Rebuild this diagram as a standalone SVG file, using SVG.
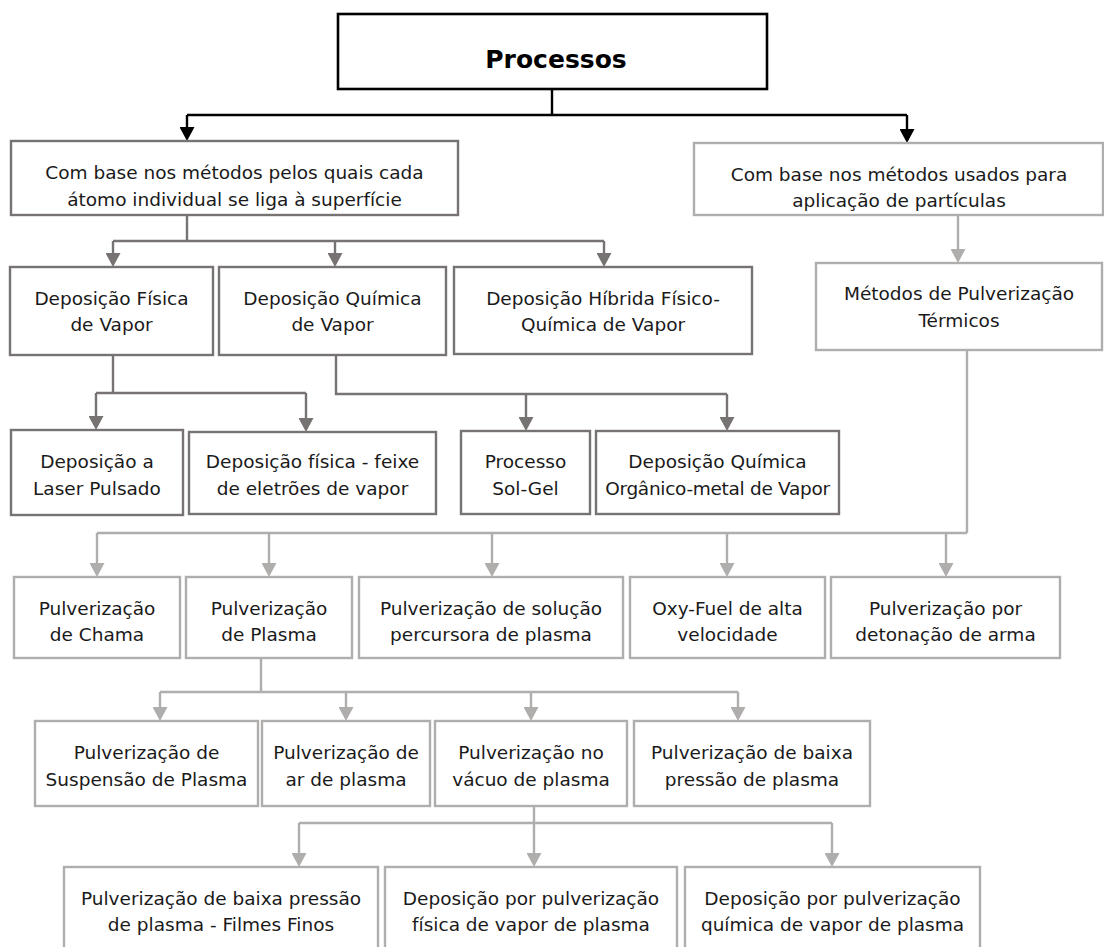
<svg xmlns="http://www.w3.org/2000/svg" width="1104" height="947" viewBox="0 0 1104 947">
<style>
text{font-family:"DejaVu Sans","Noto Sans",sans-serif;font-size:18.5px;fill:#1a1a1a;text-anchor:middle}
.title{font-size:25px;font-weight:bold;fill:#000}
rect{fill:#fff;stroke-width:2.4}
.k{stroke:#000;stroke-width:2.6}
.g{stroke:#777373}
.l{stroke:#b0adad}
.ck{fill:none;stroke:#000;stroke-width:2.4}
.cg{fill:none;stroke:#777373;stroke-width:2.4}
.cl{fill:none;stroke:#b0adad;stroke-width:2.4}
.ak{marker-end:url(#hk)}
.ag{marker-end:url(#hg)}
.al{marker-end:url(#hl)}
</style>
<defs>
<marker id="hk" viewBox="0 0 14 15" refX="2" refY="7.5" markerWidth="14" markerHeight="15" markerUnits="userSpaceOnUse" orient="auto"><path d="M0,0 L14,7.5 L0,15 Z" fill="#000"/></marker>
<marker id="hg" viewBox="0 0 14 15" refX="2" refY="7.5" markerWidth="14" markerHeight="15" markerUnits="userSpaceOnUse" orient="auto"><path d="M0,0 L14,7.5 L0,15 Z" fill="#777373"/></marker>
<marker id="hl" viewBox="0 0 14 15" refX="2" refY="7.5" markerWidth="14" markerHeight="15" markerUnits="userSpaceOnUse" orient="auto"><path d="M0,0 L14,7.5 L0,15 Z" fill="#b0adad"/></marker>
</defs>

<g id="connectors">
<path class="ck" d="M552,89 V115 M187,115 H907"/>
<path class="ck ak" d="M187,115 V129"/>
<path class="ck ak" d="M907,115 V131"/>

<path class="cg" d="M187,215 V241 M113,241 H604"/>
<path class="cg ag" d="M113,241 V255"/>
<path class="cg ag" d="M335,241 V255"/>
<path class="cg ag" d="M604,241 V255"/>

<path class="cg" d="M113,355 V393 M96,393 H306"/>
<path class="cg ag" d="M96,393 V418"/>
<path class="cg ag" d="M306,393 V420"/>

<path class="cg" d="M336,355 V394 H727"/>
<path class="cg ag" d="M526,394 V419"/>
<path class="cg ag" d="M727,394 V419"/>

<path class="cl al" d="M958,215 V251"/>

<path class="cl" d="M967,350 V533 M97,533 H967"/>
<path class="cl al" d="M97,533 V565"/>
<path class="cl al" d="M269,533 V565"/>
<path class="cl al" d="M492,533 V565"/>
<path class="cl al" d="M727,533 V565"/>
<path class="cl al" d="M946,533 V565"/>

<path class="cl" d="M261,658 V692 M160,692 H738"/>
<path class="cl al" d="M160,692 V709"/>
<path class="cl al" d="M346,692 V709"/>
<path class="cl al" d="M531,692 V709"/>
<path class="cl al" d="M738,692 V709"/>

<path class="cl" d="M534,806 V823 M299,823 H832"/>
<path class="cl al" d="M299,823 V855"/>
<path class="cl al" d="M534,823 V855"/>
<path class="cl al" d="M832,823 V855"/>
</g>

<g id="processos"><rect class="k" x="338" y="14" width="429" height="75"/><text class="title" x="556" y="68">Processos</text></g>

<g id="base-atomo"><rect class="g" x="11" y="141" width="447" height="74"/><text x="234.5" y="179">Com base nos métodos pelos quais cada</text><text x="234.5" y="206">átomo individual se liga à superfície</text></g>
<g id="base-particulas"><rect class="l" x="694" y="143" width="409" height="72"/><text x="899" y="181">Com base nos métodos usados para</text><text x="899" y="207">aplicação de partículas</text></g>

<g id="dep-fisica"><rect class="g" x="10" y="267" width="203" height="88"/><text x="111.5" y="305">Deposição Física</text><text x="111.5" y="331">de Vapor</text></g>
<g id="dep-quimica"><rect class="g" x="219" y="267" width="227" height="88"/><text x="332.5" y="305">Deposição Química</text><text x="332.5" y="331">de Vapor</text></g>
<g id="dep-hibrida"><rect class="g" x="454" y="267" width="298" height="87"/><text x="603" y="305">Deposição Híbrida Físico-</text><text x="603" y="331">Química de Vapor</text></g>
<g id="metodos-pulv"><rect class="l" x="816" y="263" width="286" height="87"/><text x="959" y="300">Métodos de Pulverização</text><text x="959" y="327">Térmicos</text></g>

<g id="laser"><rect class="g" x="11" y="430" width="172" height="85"/><text x="97" y="468">Deposição a</text><text x="97" y="495">Laser Pulsado</text></g>
<g id="feixe"><rect class="g" x="189" y="432" width="247" height="82"/><text x="312.5" y="468">Deposição física - feixe</text><text x="312.5" y="495">de eletrões de vapor</text></g>
<g id="solgel"><rect class="g" x="461" y="431" width="129" height="83"/><text x="525.5" y="468">Processo</text><text x="525.5" y="495">Sol-Gel</text></g>
<g id="organico"><rect class="g" x="596" y="431" width="243" height="83"/><text x="717.5" y="468">Deposição Química</text><text x="717.5" y="495" style="letter-spacing:-0.3px">Orgânico-metal de Vapor</text></g>

<g id="chama"><rect class="l" x="14" y="577" width="166" height="81"/><text x="97" y="615">Pulverização</text><text x="97" y="641">de Chama</text></g>
<g id="plasma"><rect class="l" x="186" y="577" width="166" height="81"/><text x="269" y="615">Pulverização</text><text x="269" y="641">de Plasma</text></g>
<g id="solucao"><rect class="l" x="359" y="577" width="264" height="81"/><text x="491" y="615">Pulverização de solução</text><text x="491" y="641">percursora de plasma</text></g>
<g id="oxyfuel"><rect class="l" x="630" y="577" width="195" height="81"/><text x="727.5" y="615">Oxy-Fuel de alta</text><text x="727.5" y="641">velocidade</text></g>
<g id="detonacao"><rect class="l" x="831" y="577" width="229" height="81"/><text x="945.5" y="615">Pulverização por</text><text x="945.5" y="641">detonação de arma</text></g>

<g id="suspensao"><rect class="l" x="35" y="721" width="223" height="85"/><text x="146.5" y="759">Pulverização de</text><text x="146.5" y="786">Suspensão de Plasma</text></g>
<g id="ar-plasma"><rect class="l" x="262" y="721" width="168" height="85"/><text x="346" y="759">Pulverização de</text><text x="346" y="786">ar de plasma</text></g>
<g id="vacuo"><rect class="l" x="435" y="721" width="192" height="85"/><text x="531" y="759">Pulverização no</text><text x="531" y="786">vácuo de plasma</text></g>
<g id="baixa-pressao"><rect class="l" x="634" y="721" width="236" height="85"/><text x="752" y="759">Pulverização de baixa</text><text x="752" y="786">pressão de plasma</text></g>

<g id="filmes-finos"><rect class="l" x="64" y="867" width="314" height="90"/><text x="221" y="905">Pulverização de baixa pressão</text><text x="221" y="931">de plasma - Filmes Finos</text></g>
<g id="fisica-vapor-plasma"><rect class="l" x="385" y="867" width="292" height="90"/><text x="531" y="905">Deposição por pulverização</text><text x="531" y="931">física de vapor de plasma</text></g>
<g id="quimica-vapor-plasma"><rect class="l" x="685" y="867" width="295" height="90"/><text x="832.5" y="905">Deposição por pulverização</text><text x="832.5" y="931">química de vapor de plasma</text></g>
</svg>
